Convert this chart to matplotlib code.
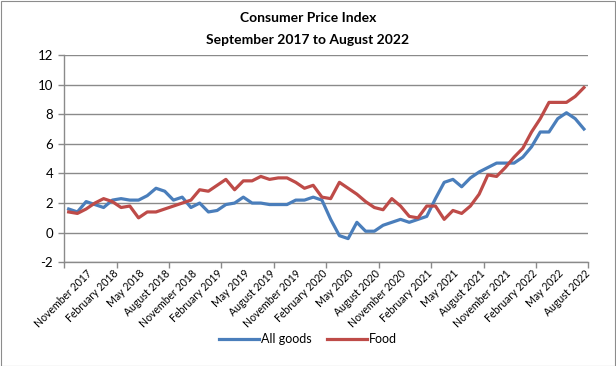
import matplotlib
matplotlib.use("Agg")
import matplotlib.pyplot as plt
from matplotlib.patches import Rectangle
from matplotlib.lines import Line2D

months = ["January", "February", "March", "April", "May", "June", "July",
          "August", "September", "October", "November", "December"]
categories = []
y, m = 2017, 8
for _ in range(60):
    categories.append(f"{months[m]} {y}")
    m += 1
    if m == 12:
        m = 0
        y += 1

all_goods = [1.6, 1.4, 2.1, 1.9, 1.7, 2.2, 2.3, 2.2, 2.2, 2.5,
             3.0, 2.8, 2.2, 2.4, 1.7, 2.0, 1.4, 1.5, 1.9, 2.0,
             2.4, 2.0, 2.0, 1.9, 1.9, 1.9, 2.2, 2.2, 2.4, 2.2,
             0.9, -0.2, -0.4, 0.7, 0.1, 0.1, 0.5, 0.7, 0.9, 0.7,
             0.9, 1.1, 2.3, 3.4, 3.6, 3.1, 3.7, 4.1, 4.4, 4.7,
             4.7, 4.7, 5.1, 5.8, 6.8, 6.8, 7.7, 8.1, 7.7, 7.0]
food = [1.4, 1.3, 1.6, 2.0, 2.3, 2.1, 1.7, 1.8, 1.0, 1.4,
        1.4, 1.6, 1.8, 2.0, 2.2, 2.9, 2.8, 3.2, 3.6, 2.9,
        3.5, 3.5, 3.8, 3.6, 3.7, 3.7, 3.4, 3.0, 3.2, 2.4,
        2.3, 3.4, 3.0, 2.6, 2.1, 1.7, 1.55, 2.3, 1.8, 1.1,
        1.0, 1.8, 1.8, 0.9, 1.5, 1.3, 1.8, 2.6, 3.9, 3.8,
        4.4, 5.1, 5.7, 6.8, 7.7, 8.8, 8.8, 8.8, 9.2, 9.8]

label_idx = list(range(2, 60, 3))
y_ticks = [-2, 0, 2, 4, 6, 8, 10, 12]

plt.rcParams['font.family'] = ['Lato', 'DejaVu Sans']

W, H = 616, 366
fig = plt.figure(figsize=(W / 100, H / 100), dpi=100)
fig.patch.set_facecolor("white")
fig.patches.append(Rectangle((0.5 / W, 0.5 / H), 1 - 1.5 / W, 1 - 1.5 / H,
                             transform=fig.transFigure, fill=False,
                             edgecolor="#8c8c8c", linewidth=0.8))

ax = fig.add_axes([64.3 / W, 1 - 262.3 / H, (588.3 - 64.3) / W, (262.3 - 55) / H])
x = list(range(len(categories)))
blue = "#4A7EBB"
red = "#BE4B48"
ax.plot(x, all_goods, color=blue, lw=2.3, solid_joinstyle="round", zorder=3)
ax.plot(x, food, color=red, lw=2.3, solid_joinstyle="round", zorder=3)

ax.set_xlim(-0.5, 59.5)
ax.set_ylim(-2, 12)
ax.set_yticks(y_ticks)
ax.set_yticklabels([str(v) for v in y_ticks], fontsize=9.5)
ax.yaxis.grid(True, color="#8a8a8a", lw=1.0)
ax.set_axisbelow(True)
ax.tick_params(axis='y', length=4, width=1, color="#8a8a8a", pad=4)

ax.set_xticks([i - 0.5 for i in range(0, 61, 6)])
ax.set_xticklabels([])
ax.tick_params(axis='x', length=4, width=1, color="#8a8a8a")
ax.set_xticks(label_idx, minor=True)
ax.set_xticklabels([categories[i] for i in label_idx], minor=True,
                   rotation=45, ha='right', va='top', rotation_mode='anchor',
                   fontsize=7.6)
ax.tick_params(axis='x', which='minor', length=0, pad=4)

for s in ['top', 'right']:
    ax.spines[s].set_visible(False)
for s in ['left', 'bottom']:
    ax.spines[s].set_color("#8a8a8a")
    ax.spines[s].set_linewidth(1.0)

fig.text(0.5, 1 - 18 / H, "Consumer Price Index", ha='center', va='center',
         fontsize=10, fontweight='bold')
fig.text(0.5, 1 - 40 / H, "September 2017 to August 2022", ha='center', va='center',
         fontsize=10, fontweight='bold')

handles = [Line2D([], [], color=blue, lw=2.3), Line2D([], [], color=red, lw=2.3)]
fig.legend(handles, ["All goods", "Food"], loc='center', bbox_to_anchor=(0.5, 1 - 339 / H),
           ncol=2, frameon=False, fontsize=9, handlelength=3.2, handletextpad=0.2,
           columnspacing=1.2)

fig.savefig("out.png", dpi=100)
